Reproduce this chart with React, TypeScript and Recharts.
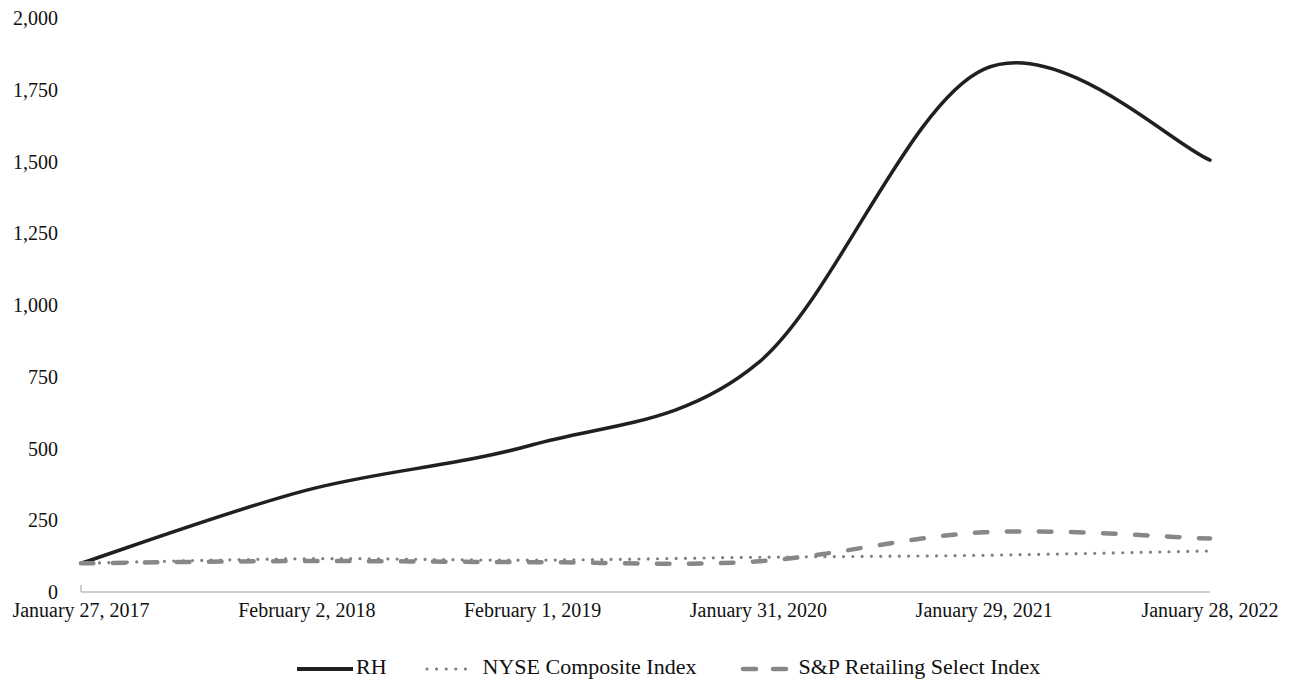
import React from 'react'
import { LineChart, Line, XAxis, YAxis, Legend, ReferenceLine } from 'recharts'

const periods = [
  'January 27, 2017',
  'February 2, 2018',
  'February 1, 2019',
  'January 31, 2020',
  'January 29, 2021',
  'January 28, 2022',
]

const rhValues = [100, 355, 513, 799, 1822, 1505]
const nyseValues = [100, 116, 111, 121, 128, 143]
const retailValues = [100, 108, 104, 107, 208, 186]

const yTicks = [0, 250, 500, 750, 1000, 1250, 1500, 1750, 2000]

const FONT = '"Liberation Serif", "Times New Roman", serif'

const data = periods.map((period, i) => ({
  period,
  rh: rhValues[i],
  nyse: nyseValues[i],
  retail: retailValues[i],
}))

// Catmull-Rom style smoothing, the same look as spreadsheet "smoothed line" charts
function smoothCurve(context: any) {
  let xs: number[] = []
  let ys: number[] = []
  return {
    areaStart() {},
    areaEnd() {},
    lineStart() {
      xs = []
      ys = []
    },
    lineEnd() {
      const n = xs.length
      if (!n) return
      context.moveTo(xs[0], ys[0])
      for (let i = 0; i < n - 1; i++) {
        const a = Math.max(i - 1, 0)
        const d = Math.min(i + 2, n - 1)
        context.bezierCurveTo(
          xs[i] + (xs[i + 1] - xs[a]) / 6,
          ys[i] + (ys[i + 1] - ys[a]) / 6,
          xs[i + 1] - (xs[d] - xs[i]) / 6,
          ys[i + 1] - (ys[d] - ys[i]) / 6,
          xs[i + 1],
          ys[i + 1]
        )
      }
    },
    point(x: number, y: number) {
      xs.push(+x)
      ys.push(+y)
    },
  }
}

const series = [
  { key: 'rh', name: 'RH', color: '#231f20', width: 3.5, dash: undefined as string | undefined },
  { key: 'nyse', name: 'NYSE Composite Index', color: '#808080', width: 3.2, dash: '0 9.3' },
  { key: 'retail', name: 'S&P Retailing Select Index', color: '#878787', width: 4.5, dash: '12.5 19.5' },
]

// legend swatches: solid bar, six dots, two short dashes
const swatch: Record<string, { w: number; x1: number; x2: number; dash?: string; cap: 'butt' | 'round'; gapBefore: number }> = {
  rh: { w: 56, x1: 0, x2: 56, cap: 'butt', gapBefore: 0 },
  nyse: { w: 50, x1: 2, x2: 50, dash: '0 9.6', cap: 'round', gapBefore: 38 },
  retail: { w: 50, x1: 3, x2: 50, dash: '13 17', cap: 'round', gapBefore: 44 },
}

const LegendContent = () => (
  <div style={{ display: 'flex', alignItems: 'center', height: 24, paddingLeft: 297, fontFamily: FONT, fontSize: 22, color: '#111' }}>
    {series.map((s) => {
      const sw = swatch[s.key]
      return (
        <div key={s.key} style={{ display: 'flex', alignItems: 'center', marginLeft: sw.gapBefore }}>
          <svg width={sw.w} height={10} style={{ marginRight: s.key === 'rh' ? 3 : 8, marginTop: 3 }}>
            <line
              x1={sw.x1}
              y1={5}
              x2={sw.x2}
              y2={5}
              stroke={s.color}
              strokeWidth={s.key === 'rh' ? 4 : s.width}
              strokeDasharray={sw.dash}
              strokeLinecap={sw.cap}
            />
          </svg>
          <span>{s.name}</span>
        </div>
      )
    })}
  </div>
)

export default function App() {
  return (
    <div style={{ position: 'absolute', left: 0, top: 0, background: '#fff' }}>
      <LineChart width={1293} height={683} data={data} margin={{ top: 18, right: 83, left: 11, bottom: 37 }}>
        <XAxis
          dataKey="period"
          tickLine={false}
          tickSize={0}
          tickMargin={11}
          axisLine={{ stroke: '#bfbfbf', strokeWidth: 1.5 }}
          tick={{ fill: '#111', fontFamily: FONT, fontSize: 20 }}
          interval={0}
          height={30}
        />
        <YAxis
          domain={[0, 2000]}
          ticks={yTicks}
          width={70}
          axisLine={false}
          tickLine={false}
          tickSize={0}
          tickMargin={23}
          tick={{ fill: '#111', fontFamily: FONT, fontSize: 20 }}
          tickFormatter={(v: number) => v.toLocaleString('en-US')}
        />
        <ReferenceLine
          segment={[{ x: periods[0], y: 0 }, { x: periods[0], y: 25 }]}
          stroke="#bfbfbf"
          strokeWidth={1.5}
        />
        <Legend verticalAlign="bottom" content={<LegendContent />} wrapperStyle={{ bottom: 4, left: 0, width: 1293 }} />
        {series.map((s) => (
          <Line
            key={s.key}
            dataKey={s.key}
            name={s.name}
            type={smoothCurve as any}
            stroke={s.color}
            strokeWidth={s.width}
            strokeDasharray={s.dash}
            strokeLinecap="round"
            dot={false}
            activeDot={false}
            isAnimationActive={false}
          />
        ))}
      </LineChart>
    </div>
  )
}
